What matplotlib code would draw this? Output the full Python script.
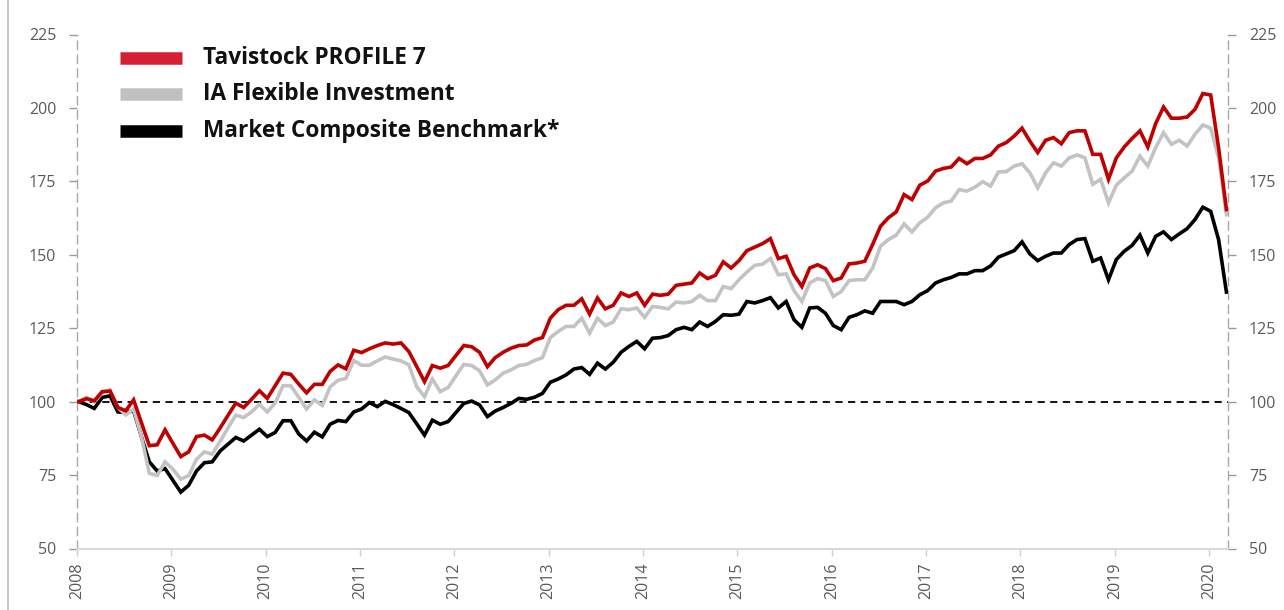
import numpy as np
import matplotlib
matplotlib.use("Agg")
import matplotlib.pyplot as plt
from matplotlib.lines import Line2D
from matplotlib import font_manager

plt.rcParams['font.family'] = ['Open Sans', 'DejaVu Sans']

start_year = 2008
series_names = ["Tavistock PROFILE 7", "IA Flexible Investment", "Market Composite Benchmark*"]

tavistock = [
    100, 101, 100.3, 103.4, 103.6, 98, 96.9, 100.6, 92.8, 85, 85.3, 90.4,
    85.8, 81.3, 82.9, 88.1, 88.6, 87, 91, 95.3, 99.5, 98, 100.8, 103.7,
    101.1, 105.4, 109.7, 109.3, 106, 103, 105.9, 105.9, 110.3, 112.5, 111.2, 117.5,
    116.7, 118, 119.1, 120, 119.6, 120, 117.1, 112, 106.8, 112.3, 111.4, 112.3,
    115.7, 119.1, 118.7, 116.8, 111.9, 115, 116.8, 118.2, 119.1, 119.3, 121, 121.8,
    128.4, 131.3, 132.8, 132.8, 135, 129.8, 135.3, 131.6, 132.8, 137, 135.8, 137,
    132.8, 136.6, 136.2, 136.6, 139.6, 140, 140.4, 143.8, 141.9, 143, 147.6, 145.5,
    148, 151.4, 152.6, 153.8, 155.5, 148.7, 149.5, 143.2, 139.2, 145.5, 146.6, 145.3,
    141.2, 142.1, 146.9, 147.2, 147.8, 153.5, 159.7, 162.6, 164.6, 170.5, 168.8, 173.7,
    175.1, 178.5, 179.4, 179.9, 182.8, 181, 182.8, 182.8, 184, 187, 188.2, 190.4,
    193.1, 188.7, 184.8, 189, 189.9, 187.8, 191.6, 192.2, 192.2, 184.2, 184.2, 175.7,
    183, 186.7, 189.6, 192.2, 186.7, 194.7, 200.3, 196.5, 196.5, 196.9, 199.5, 204.9,
    204.4, 186.5, 165.4,
]

ia_flexible = [
    100, 101.5, 100, 103, 104, 98, 95.5, 97.5, 88, 75.6, 74.9, 79.5,
    77, 73.6, 74.8, 80.4, 82.9, 82.1, 86.5, 91, 95.4, 94.6, 96.5, 99.1,
    96.5, 99.5, 105.4, 105.4, 101.5, 97.5, 100.6, 98.7, 105, 107.3, 107.9, 114,
    112.4, 112.4, 113.9, 115.2, 114.5, 113.9, 112.6, 105.1, 101.7, 107.7, 103.4, 104.8,
    108.8, 112.7, 112.3, 110.5, 105.7, 107.4, 109.7, 110.8, 112.3, 112.7, 114, 115,
    121.8, 123.9, 125.6, 125.6, 128.4, 123.3, 128.4, 125.9, 127.1, 131.6, 131.3, 131.9,
    128.7, 132.4, 132.1, 131.6, 133.9, 133.6, 134.1, 136.2, 134.4, 134.4, 139.2, 138.5,
    141.5, 144.1, 146.4, 146.8, 148.7, 143.2, 143.5, 137.8, 134.1, 140.4, 141.9, 141.2,
    135.8, 137.5, 141.2, 141.5, 141.5, 145.5, 152.9, 155.2, 156.7, 160.5, 157.8, 160.9,
    162.8, 166, 167.7, 168.3, 172.2, 171.7, 173, 174.9, 173.4, 178.2, 178.3, 180.2,
    181, 177.9, 172.8, 177.9, 181.3, 180.2, 183, 184, 183, 174, 175.7, 167.7,
    173.7, 176.2, 178.5, 183.6, 180.2, 186.5, 191.6, 187.6, 189, 187, 191, 194.2,
    193.1, 183, 163.7,
]

benchmark = [
    100, 99, 97.7, 101.4, 102, 96.5, 96.3, 96.9, 88, 79.5, 76.4, 77.2,
    73.2, 69.2, 71.5, 76.4, 79.2, 79.5, 83.2, 85.5, 87.8, 86.6, 88.6, 90.6,
    88.1, 89.5, 93.5, 93.5, 89, 86.6, 89.6, 88, 92.3, 93.6, 93.2, 96.5,
    97.5, 99.7, 98.3, 100.1, 99, 97.7, 96.3, 92.5, 88.6, 93.7, 92.3, 93.2,
    96.3, 99.4, 100.2, 98.9, 94.9, 96.8, 98, 99.4, 101.1, 100.8, 101.5, 102.8,
    106.6, 107.7, 109.1, 111.1, 111.6, 109.3, 113.1, 111.1, 113.4, 116.8, 118.8, 120.5,
    118, 121.6, 121.8, 122.5, 124.5, 125.3, 124.5, 127.1, 125.6, 127.3, 129.6, 129.4,
    129.8, 134.1, 133.6, 134.4, 135.4, 131.9, 134.1, 127.9, 125.3, 131.9, 132.1, 130.1,
    125.9, 124.5, 128.7, 129.6, 130.9, 130.1, 134.1, 134.1, 134.1, 133, 134.1, 136.4,
    137.8, 140.4, 141.5, 142.3, 143.5, 143.5, 144.6, 144.6, 146.2, 149.2, 150.3, 151.4,
    154.4, 150.3, 148, 149.5, 150.6, 150.6, 153.5, 155.2, 155.5, 147.8, 148.9, 141.5,
    148.4, 151.2, 153.2, 156.7, 150.6, 156.3, 157.8, 155.2, 157.1, 158.9, 162, 166.2,
    164.8, 155.2, 137.3,
]

year_ticks = list(range(2008, 2021))
y_ticks = [50, 75, 100, 125, 150, 175, 200, 225]

line_colors = ["#C00000", "#C3C3C3", "#000000"]
legend_colors = ["#D42032", "#C0C0C0", "#000000"]

n = len(tavistock)
t = start_year + (np.arange(n) + 0.2) / 12.0

W, H = 1284, 610
fig = plt.figure(figsize=(W / 100, H / 100), dpi=100)
ax = fig.add_axes([77 / W, 1 - 548.5 / H, (1228 - 77) / W, (548.5 - 34.5) / H])

ax.axhline(100, color="black", lw=1.3, ls=(0, (4, 3)), zorder=2)
for vals, c in zip([tavistock, ia_flexible, benchmark][::-1], line_colors[::-1]):
    ax.plot(t, vals, color=c, lw=2.6, solid_joinstyle="miter", zorder=3)

ax.set_xlim(2008, 2020.2)
ax.set_ylim(50, 225)
ax.set_yticks(y_ticks)
ax.set_xticks(year_ticks)
ax.set_xticklabels([str(y) for y in year_ticks], rotation=90)

tick_color = "#9A9A9A"
lab_color = "#5A5A5A"
ax.tick_params(axis="y", which="both", left=True, right=True, labelleft=True,
               labelright=True, length=6, width=1, color=tick_color,
               labelsize=11.5, labelcolor=lab_color, pad=9)
ax.tick_params(axis="x", length=5, width=1, color="#D0D0D0",
               labelsize=11.5, labelcolor=lab_color, pad=5)

for side in ["left", "right"]:
    ax.spines[side].set_color("#A8A8A8")
    ax.spines[side].set_linestyle((0, (6, 4)))
    ax.spines[side].set_linewidth(1.0)
ax.spines["top"].set_visible(False)
ax.spines["bottom"].set_color("#D9D9D9")
ax.spines["bottom"].set_linewidth(1.5)

# legend drawn manually
rows_y = [58, 94, 131]
for name, c, yy in zip(series_names, legend_colors, rows_y):
    fy = 1 - yy / H
    fig.add_artist(Line2D([120 / W, 182 / W], [fy, fy], color=c, lw=9,
                          solid_capstyle="butt", transform=fig.transFigure))
    txt = fig.text(203 / W, fy, name, fontsize=16.3, fontweight="bold",
                   color="#111111", va="center", ha="left")

# left border line of the figure
fig.add_artist(Line2D([8 / W, 8 / W], [0, 1], color="#BDBDBD", lw=1.2,
                      transform=fig.transFigure))

fig.savefig("out.png", dpi=100)
